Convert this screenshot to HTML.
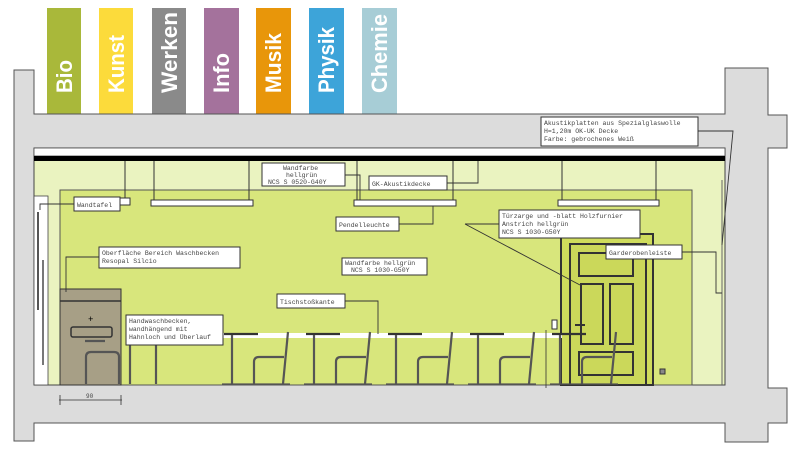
<!DOCTYPE html>
<html><head><meta charset="utf-8"><style>
html,body{margin:0;padding:0;background:#fff;width:800px;height:450px;overflow:hidden}
svg text{font-family:"Liberation Mono",monospace;font-size:6.5px;fill:#444}
svg text.tab{font-family:"Liberation Sans",sans-serif;font-size:22px;fill:#fff;font-weight:bold}
</style></head><body>
<svg width="800" height="450" viewBox="0 0 800 450" xmlns="http://www.w3.org/2000/svg">
<rect x="47" y="8" width="34" height="106" fill="#a9b83a"/>
<rect x="99" y="8" width="34" height="106" fill="#fcdb3b"/>
<rect x="152" y="8" width="34" height="106" fill="#8a8a8a"/>
<rect x="204" y="8" width="35" height="106" fill="#a4729c"/>
<rect x="256" y="8" width="35" height="106" fill="#e8960a"/>
<rect x="309" y="8" width="35" height="106" fill="#3da4d9"/>
<rect x="362" y="8" width="35" height="106" fill="#a7cdd6"/>
<text class="tab" transform="translate(72,93) rotate(-90)" textLength="33" lengthAdjust="spacingAndGlyphs">Bio</text>
<text class="tab" transform="translate(124,93) rotate(-90)" textLength="58" lengthAdjust="spacingAndGlyphs">Kunst</text>
<text class="tab" transform="translate(177,93) rotate(-90)" textLength="81" lengthAdjust="spacingAndGlyphs">Werken</text>
<text class="tab" transform="translate(229,93) rotate(-90)" textLength="40" lengthAdjust="spacingAndGlyphs">Info</text>
<text class="tab" transform="translate(281,93) rotate(-90)" textLength="60" lengthAdjust="spacingAndGlyphs">Musik</text>
<text class="tab" transform="translate(334,93) rotate(-90)" textLength="66" lengthAdjust="spacingAndGlyphs">Physik</text>
<text class="tab" transform="translate(387,93) rotate(-90)" textLength="79" lengthAdjust="spacingAndGlyphs">Chemie</text>
<g fill="#dcdcdc" stroke="#555" stroke-width="1">
<path d="M14,70 H34 V114 H725 V68 H768 V115 H787 V148 H768 V388 H787 V423 H768 V442 H725 V423 H34 V441 H14 Z"/>
</g>
<rect x="34" y="148" width="691" height="237" fill="#eaf3c0" stroke="#444" stroke-width="1"/>
<rect x="34" y="148" width="691" height="8" fill="#fff" stroke="#444" stroke-width="0.8"/>
<rect x="34" y="156" width="691" height="5" fill="#000"/>
<rect x="60" y="190" width="632" height="195" fill="#d8e67c" stroke="#555" stroke-width="1"/>
<rect x="34" y="196" width="14" height="189" fill="#fff" stroke="#444" stroke-width="0.8"/>
<line x1="38" y1="212" x2="38" y2="310" stroke="#555" stroke-width="2"/>
<line x1="43" y1="260" x2="43" y2="365" stroke="#777" stroke-width="2"/>
<line x1="722" y1="180" x2="722" y2="385" stroke="#666" stroke-width="1"/>
<g stroke="#333" stroke-width="1" fill="none">
<line x1="125" y1="161" x2="125" y2="198"/>
<line x1="154" y1="161" x2="154" y2="200"/><line x1="249" y1="161" x2="249" y2="200"/>
<line x1="357" y1="161" x2="357" y2="200"/><line x1="453" y1="161" x2="453" y2="200"/>
<line x1="562" y1="161" x2="562" y2="200"/><line x1="656" y1="161" x2="656" y2="200"/>
</g>
<g fill="#fff" stroke="#333" stroke-width="1">
<rect x="151" y="200" width="102" height="6"/>
<rect x="354" y="200" width="102" height="6"/>
<rect x="558" y="200" width="101" height="6"/>
<rect x="120" y="198" width="10" height="7"/>
</g>
<g stroke="#333" fill="none">
<rect x="561" y="234" width="92" height="151" fill="#cfdc5c" stroke-width="2"/>
<rect x="570" y="244" width="76" height="141" fill="#cbd85a" stroke-width="2"/>
<rect x="579" y="253" width="54" height="23" stroke-width="2"/>
<rect x="581" y="284" width="22" height="60" stroke-width="2"/>
<rect x="610" y="284" width="23" height="60" stroke-width="2"/>
<rect x="579" y="352" width="54" height="23" stroke-width="2"/>
<line x1="575" y1="325" x2="585" y2="325" stroke-width="2"/>
<rect x="552" y="320" width="5" height="9" fill="#fff" stroke-width="1"/>
<rect x="660" y="369" width="5" height="5" fill="#888" stroke-width="1"/>
</g>
<rect x="60" y="289" width="61" height="96" fill="#a79f86" stroke="#333" stroke-width="1"/>
<line x1="60" y1="301" x2="121" y2="301" stroke="#333" stroke-width="1.5"/>
<rect x="71" y="327" width="41" height="10" rx="2" fill="#a79f86" stroke="#333" stroke-width="1.5"/>
<text x="88" y="322" style="font-size:9px;fill:#000">+</text>
<rect x="222" y="333" width="340" height="5" fill="#fff"/>
<g stroke="#555" stroke-width="2.2" fill="none">
<g id="u">
<line x1="224" y1="334" x2="258" y2="334" stroke="#333"/>
<line x1="232" y1="335" x2="232" y2="384"/>
<path d="M254,384 V362 Q254,357 259,357 H284"/>
<line x1="288" y1="332" x2="283" y2="384"/>
<line x1="222" y1="384" x2="290" y2="384" stroke-width="1.2"/>
</g>
<use href="#u" x="82"/><use href="#u" x="164"/><use href="#u" x="246"/><use href="#u" x="328"/>
<line x1="130" y1="340" x2="130" y2="384"/><line x1="156" y1="340" x2="156" y2="384"/>
<path d="M86,384 V357 Q86,352 91,352 H114 Q119,352 119,357 V384"/>
<line x1="85" y1="341" x2="105" y2="341" stroke="#555"/>
</g>
<g stroke="#333" stroke-width="0.8">
<line x1="59" y1="400" x2="122" y2="400"/><line x1="60" y1="395" x2="60" y2="405"/><line x1="121" y1="395" x2="121" y2="405"/>
<line x1="546" y1="330" x2="546" y2="388"/>
</g>
<text x="86" y="398" style="font-size:6px">90</text>
<g stroke="#333" stroke-width="0.9" fill="none">
<polyline points="74,204 40,204 40,210"/>
<polyline points="99,257 66,257 66,292"/>
<polyline points="345,175 360,175 360,200"/>
<polyline points="447,183 478,183 478,161"/>
<polyline points="399,224 433,224 433,206"/>
<polyline points="345,301 378,301 378,334"/>
<polyline points="698,131 733,131 722,245"/>
<polyline points="465,224 499,224"/><line x1="465" y1="224" x2="580" y2="285"/>
<polyline points="682,252 716,252 716,293 722,293"/>
</g>
<g fill="#fff" stroke="#333" stroke-width="1">
<rect x="262" y="163" width="83" height="23"/>
<rect x="369" y="176" width="78" height="14"/>
<rect x="74" y="197" width="46" height="14"/>
<rect x="336" y="217" width="63" height="14"/>
<rect x="541" y="117" width="157" height="29"/>
<rect x="499" y="210" width="141" height="28"/>
<rect x="606" y="245" width="76" height="14"/>
<rect x="99" y="247" width="141" height="21"/>
<rect x="342" y="258" width="85" height="17"/>
<rect x="277" y="294" width="68" height="14"/>
<rect x="126" y="315" width="97" height="30"/>
</g>
<text x="283" y="170">Wandfarbe</text><text x="286" y="177">hellgrün</text><text x="268" y="184">NCS S 0520-G40Y</text>
<text x="372" y="186">GK-Akustikdecke</text>
<text x="77" y="207">Wandtafel</text>
<text x="339" y="227">Pendelleuchte</text>
<text x="544" y="125">Akustikplatten aus Spezialglaswolle</text><text x="544" y="133">H=1,20m OK-UK Decke</text><text x="544" y="141">Farbe: gebrochenes Weiß</text>
<text x="502" y="218">Türzarge und -blatt Holzfurnier</text><text x="502" y="226">Anstrich hellgrün</text><text x="502" y="234">NCS S 1030-G50Y</text>
<text x="609" y="255">Garderobenleiste</text>
<text x="102" y="255">Oberfläche Bereich Waschbecken</text><text x="102" y="263">Resopal Silcio</text>
<text x="345" y="265">Wandfarbe hellgrün</text><text x="351" y="272">NCS S 1030-G50Y</text>
<text x="280" y="304">Tischstoßkante</text>
<text x="129" y="323">Handwaschbecken,</text><text x="129" y="331">wandhängend mit</text><text x="129" y="339">Hahnloch und Überlauf</text>
</svg>
</body></html>
